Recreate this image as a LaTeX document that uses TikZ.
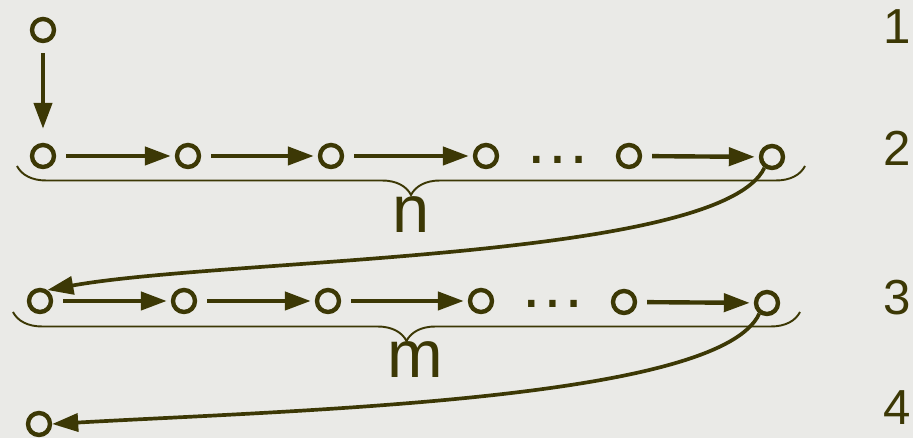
\documentclass[tikz,border=0pt]{standalone}
\usepackage{fontspec}
\setmainfont{Liberation Sans}
\usetikzlibrary{arrows.meta,decorations.pathreplacing}
\definecolor{ink}{RGB}{60,56,5}
\definecolor{paper}{RGB}{234,234,231}
\begin{document}
\begin{tikzpicture}[>={Triangle[length=0.52cm,width=0.36cm]},
    vtx/.style={circle,draw=ink,line width=2.5pt,minimum size=0.44cm,inner sep=0pt},
    arr/.style={->,draw=ink,fill=ink,line width=2.5pt,shorten <=0.2cm,shorten >=0.08cm},
    jump/.style={->,draw=ink,line width=2.1pt},
    brc/.style={draw=ink,line width=1.1pt,decorate,decoration={brace,mirror,amplitude=0.58cm}},
    big/.style={text=ink,inner sep=0pt,font=\fontsize{38}{40}\selectfont},
    num/.style={text=ink,inner sep=0pt,font=\fontsize{28}{30}\selectfont}]
    \useasboundingbox (0,0) rectangle (18.26,8.76);
    \fill[paper] (0,0) rectangle (18.26,8.76);

    % start
    \node[vtx] (s) at (0.86,8.16) {};
    % row 2
    \node[vtx] (a1) at (0.86,5.64) {};
    \node[vtx] (a2) at (3.76,5.64) {};
    \node[vtx] (a3) at (6.62,5.64) {};
    \node[vtx] (a4) at (9.72,5.64) {};
    \node[big] (ad) at (11.16,5.56) {…};
    \node[vtx] (a5) at (12.58,5.64) {};
    \node[vtx] (a6) at (15.44,5.62) {};
    % row 3
    \node[vtx] (b1) at (0.80,2.74) {};
    \node[vtx] (b2) at (3.68,2.74) {};
    \node[vtx] (b3) at (6.56,2.74) {};
    \node[vtx] (b4) at (9.62,2.74) {};
    \node[big] (bd) at (11.06,2.68) {…};
    \node[vtx] (b5) at (12.48,2.72) {};
    \node[vtx] (b6) at (15.34,2.70) {};
    % end
    \node[vtx] (t) at (0.78,0.28) {};

    \draw[arr,shorten >=0.28cm] (s) -- (a1);
    \draw[arr] (a1) -- (a2); \draw[arr] (a2) -- (a3); \draw[arr] (a3) -- (a4);
    \draw[arr] (a5) -- (a6);
    \draw[arr] (b1) -- (b2); \draw[arr] (b2) -- (b3); \draw[arr] (b3) -- (b4);
    \draw[arr] (b5) -- (b6);

    \draw[brc] (0.34,5.44) -- (16.1,5.44);
    \draw[brc] (0.26,2.52) -- (16.0,2.52);
    \node[big] (n) at (8.22,4.46) {n};
    \node[big] (m) at (8.30,1.56) {m};

    \draw[jump] (a6.235) .. controls (14.4,3.55) and (4.5,3.6) .. (b1.56);
    \draw[jump] (b6.234) .. controls (14.4,0.76) and (6.0,0.56) .. (t.east);

    \node[num] (r1) at (17.94,8.22) {1};
    \node[num] (r2) at (17.94,5.80) {2};
    \node[num] (r3) at (17.94,2.80) {3};
    \node[num] (r4) at (17.94,0.60) {4};
\end{tikzpicture}
\end{document}
